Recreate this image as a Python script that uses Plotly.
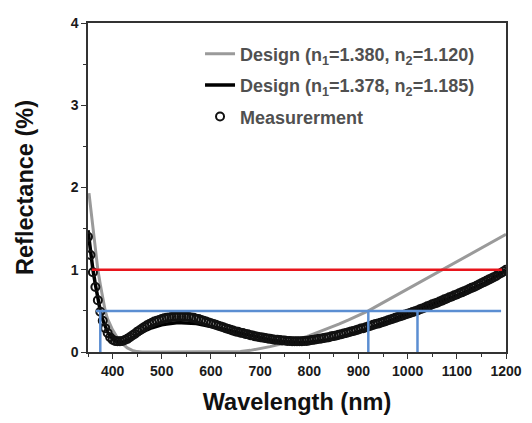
import plotly.graph_objects as go

# ---- data ----
wl_gray = [352, 356, 360, 365, 370, 375, 380, 385, 390, 400, 410, 420, 430, 440, 450, 460,
           500, 550, 600, 650, 660, 680, 700, 720, 740, 760, 780, 800, 820, 840, 860, 880,
           900, 920, 950, 1000, 1050, 1070, 1100, 1150, 1200]
r_gray = [1.93, 1.72, 1.50, 1.25, 1.00, 0.82, 0.66, 0.50, 0.40, 0.27, 0.17, 0.10, 0.05, 0.02,
          0.005, 0.0, 0.0, 0.0, 0.0, 0.0, 0.005, 0.02, 0.04, 0.065, 0.095, 0.125, 0.16, 0.20,
          0.245, 0.29, 0.34, 0.39, 0.445, 0.50, 0.60, 0.765, 0.93, 1.00, 1.10, 1.265, 1.43]

wl_black = [350, 355, 360, 365, 370, 375, 380, 390, 400, 410, 420, 430, 440, 450, 460, 470,
            480, 490, 500, 510, 520, 530, 540, 550, 560, 570, 580, 590, 600, 620, 640, 660,
            680, 700, 720, 740, 760, 780, 800, 820, 840, 860, 880, 900, 920, 940, 960, 980,
            1000, 1020, 1040, 1060, 1080, 1100, 1120, 1140, 1160, 1180, 1200]
r_black = [1.48, 1.22, 1.00, 0.82, 0.65, 0.50, 0.39, 0.24, 0.16, 0.125, 0.12, 0.14, 0.17,
           0.205, 0.24, 0.27, 0.295, 0.315, 0.33, 0.34, 0.35, 0.355, 0.355, 0.355, 0.35,
           0.345, 0.335, 0.325, 0.31, 0.285, 0.26, 0.23, 0.20, 0.175, 0.15, 0.13, 0.12,
           0.115, 0.12, 0.13, 0.15, 0.175, 0.21, 0.245, 0.285, 0.33, 0.375, 0.42, 0.46,
           0.50, 0.545, 0.59, 0.64, 0.69, 0.74, 0.79, 0.85, 0.92, 1.00]

wl_meas = list(range(350, 1201, 5))
r_meas = [
    1.40, 1.18, 0.97, 0.79, 0.63, 0.49, 0.38, 0.29, 0.23, 0.18,          # 350-395
    0.15, 0.135, 0.13, 0.13, 0.135, 0.145, 0.16, 0.18, 0.20, 0.22,       # 400-445
    0.245, 0.265, 0.285, 0.305, 0.325, 0.34, 0.355, 0.37, 0.38, 0.39,    # 450-495
    0.40, 0.41, 0.415, 0.42, 0.425, 0.43, 0.43, 0.432, 0.432, 0.43,      # 500-545
    0.43, 0.425, 0.42, 0.415, 0.405, 0.40, 0.39, 0.38, 0.37, 0.36,       # 550-595
    0.35, 0.34, 0.33, 0.32, 0.31, 0.30, 0.29, 0.28, 0.27, 0.26,          # 600-645
    0.25, 0.245, 0.235, 0.23, 0.22, 0.215, 0.205, 0.20, 0.19, 0.185,     # 650-695
    0.18, 0.175, 0.17, 0.165, 0.16, 0.155, 0.15, 0.15, 0.145, 0.14,      # 700-745
    0.14, 0.135, 0.135, 0.13, 0.13, 0.13, 0.13, 0.13, 0.135, 0.135,      # 750-795
    0.14, 0.145, 0.15, 0.155, 0.16, 0.165, 0.17, 0.175, 0.18, 0.19,      # 800-845
    0.195, 0.20, 0.21, 0.215, 0.225, 0.23, 0.24, 0.25, 0.255, 0.265,     # 850-895
    0.275, 0.285, 0.29, 0.30, 0.31, 0.32, 0.33, 0.34, 0.345, 0.355,      # 900-945
    0.365, 0.375, 0.385, 0.395, 0.405, 0.415, 0.425, 0.435, 0.445, 0.455,  # 950-995
    0.465, 0.475, 0.485, 0.495, 0.505, 0.52, 0.53, 0.54, 0.555, 0.565,   # 1000-1045
    0.58, 0.59, 0.60, 0.615, 0.625, 0.64, 0.65, 0.665, 0.675, 0.69,      # 1050-1095
    0.70, 0.715, 0.725, 0.74, 0.75, 0.765, 0.78, 0.79, 0.805, 0.82,      # 1100-1145
    0.835, 0.85, 0.865, 0.88, 0.895, 0.91, 0.925, 0.945, 0.96, 0.98,     # 1150-1195
    1.00,                                                                # 1200
]

red_level = [1.0]
red_span = [358, 1192]
blue_level = [0.5]
blue_span = [366, 1190]
blue_marks = [375, 920, 1020]

x_ticks = [400, 500, 600, 700, 800, 900, 1000, 1100, 1200]
y_ticks = [0, 1, 2, 3, 4]

legend_names = ["Design (n<sub>1</sub>=1.380, n<sub>2</sub>=1.120)",
                "Design (n<sub>1</sub>=1.378, n<sub>2</sub>=1.185)",
                "Measurerment"]

FONT = "Liberation Sans, Arial, sans-serif"

fig = go.Figure()
fig.add_trace(go.Scatter(x=wl_gray, y=r_gray, mode="lines", name=legend_names[0],
                         line=dict(color="#9a9a9a", width=3), legendgroup="a"))
fig.add_trace(go.Scatter(x=wl_black, y=r_black, mode="lines", name=legend_names[1],
                         line=dict(color="#000000", width=3.5), legendgroup="b"))
fig.add_trace(go.Scatter(x=wl_meas, y=r_meas, mode="markers", name=legend_names[2],
                         marker=dict(symbol="circle-open", size=8, color="#111111",
                                     line=dict(width=2)), legendgroup="c"))

fig.add_trace(go.Scatter(x=red_span, y=red_level * 2, mode="lines", showlegend=False,
                         line=dict(color="#e8141b", width=2.5), hoverinfo="skip"))
fig.add_trace(go.Scatter(x=blue_span, y=blue_level * 2, mode="lines", showlegend=False,
                         line=dict(color="#5b8ed2", width=2.5), hoverinfo="skip"))
for xb in blue_marks:
    fig.add_trace(go.Scatter(x=[xb, xb], y=[0, blue_level[0]], mode="lines", showlegend=False,
                             line=dict(color="#5b8ed2", width=2.5), hoverinfo="skip"))

axis_common = dict(showline=True, linecolor="#333333", linewidth=1.5, mirror=True,
                   ticks="outside", ticklen=5, tickwidth=1.2, tickcolor="#333333",
                   showgrid=False, zeroline=False, automargin=False,
                   tickfont=dict(family=FONT, size=14, color="#1a1a1a", weight="bold"))

fig.update_xaxes(range=[350, 1200], tickvals=x_ticks,
                 minor=dict(ticks="outside", ticklen=3, tickcolor="#333333",
                            tick0=350, dtick=50),
                 title=dict(text="Wavelength (nm)", standoff=19,
                            font=dict(family=FONT, size=23.5, color="#111111", weight="bold")),
                 **axis_common)
fig.update_yaxes(range=[0, 4], tickvals=y_ticks,
                 minor=dict(ticks="outside", ticklen=3, tickcolor="#333333",
                            tick0=0, dtick=0.5),
                 title=dict(text="Reflectance (%)", standoff=30,
                            font=dict(family=FONT, size=23.5, color="#111111", weight="bold")),
                 **axis_common)

# page has an 8px body margin; figure sized so plot area lands where the reference has it
fig.update_layout(
    width=516, height=407,
    margin=dict(l=80, r=18, t=15, b=63),
    paper_bgcolor="white", plot_bgcolor="white",
    legend=dict(x=0.268, y=0.962, xanchor="left", yanchor="top",
                bgcolor="rgba(0,0,0,0)", traceorder="grouped", tracegroupgap=5,
                font=dict(family=FONT, size=18, color="#505050", weight="bold")),
)

fig.write_html("out.html")
